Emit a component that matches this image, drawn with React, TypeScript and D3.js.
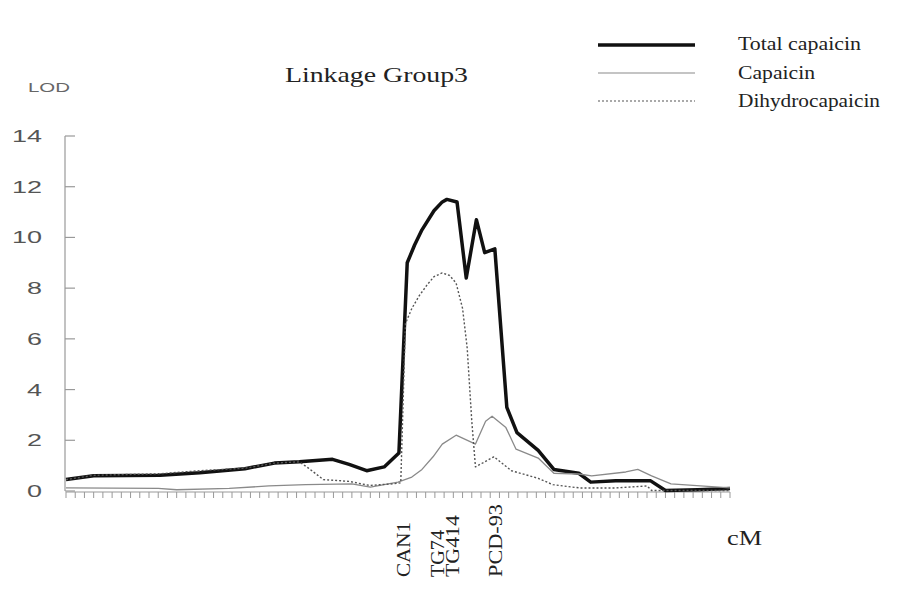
import React from 'react'
import * as d3 from 'd3'

// positions along the linkage group, in tick units (0..72)
const totalX = [0, 3, 10.2, 14.5, 19.4, 22.6, 25.3, 28.9, 30.7, 32.6, 34.5, 36.1, 37, 37.8, 38.6, 39.9, 40.8, 41.3, 42.4, 43.4, 44.5, 45.4, 46.5, 47.8, 48.9, 51.2, 52.9, 55.6, 56.9, 59.6, 63.4, 65, 68.5, 72]
const totalY = [0.45, 0.6, 0.62, 0.72, 0.88, 1.1, 1.15, 1.25, 1.05, 0.8, 0.95, 1.5, 9.0, 9.7, 10.3, 11.05, 11.4, 11.5, 11.4, 8.4, 10.7, 9.4, 9.55, 3.3, 2.3, 1.6, 0.85, 0.7, 0.35, 0.4, 0.4, 0.02, 0.05, 0.1]

const capX = [0, 10, 12, 17.7, 22, 26, 31, 33, 36, 37.5, 38.6, 39.8, 40.8, 42.3, 44.4, 45.5, 46.2, 47.7, 48.8, 51.2, 52.9, 55.6, 57, 60.7, 62, 63.5, 65.6, 72]
const capY = [0.12, 0.1, 0.05, 0.1, 0.2, 0.25, 0.28, 0.15, 0.35, 0.55, 0.85, 1.35, 1.85, 2.2, 1.85, 2.75, 2.95, 2.5, 1.65, 1.3, 0.7, 0.67, 0.6, 0.75, 0.85, 0.6, 0.28, 0.12]

const dihX = [0, 3, 10.2, 14.5, 19.4, 22.6, 25.3, 26.3, 27.9, 30.7, 32.9, 35.4, 36.3, 36.8, 37.5, 38.3, 39.2, 39.9, 40.8, 41.6, 42.3, 43, 43.5, 44, 44.4, 46.4, 48.3, 51.2, 52.8, 55.7, 59.6, 63, 63.5, 72]
const dihY = [0.45, 0.62, 0.68, 0.8, 0.9, 1.1, 1.15, 0.9, 0.45, 0.38, 0.22, 0.28, 0.32, 6.6, 7.2, 7.7, 8.15, 8.45, 8.6, 8.5, 8.2, 7.2, 5.65, 2.75, 0.95, 1.35, 0.8, 0.5, 0.25, 0.12, 0.12, 0.2, 0.02, 0.02]

const yTicks = [0, 2, 4, 6, 8, 10, 12, 14]
const markerNames = ['CAN1', 'TG74', 'TG414', 'PCD-93']
const markerPos = [36.6, 40.3, 41.9, 46.6]
const markerLen = [55, 47, 62, 73]

const legendNames = ['Total capaicin', 'Capaicin', 'Dihydrocapaicin']
const legendLen = [123, 77, 142]

const serif = '"Liberation Serif", "DejaVu Serif", serif'
const sans = '"Liberation Sans", Arial, sans-serif'

export default function App() {
  const width = 901
  const height = 595
  const x = d3.scaleLinear().domain([0, 72]).range([66, 730])
  const y = d3.scaleLinear().domain([0, 14]).range([491, 136])

  const line = d3.line<[number, number]>().x(d => x(d[0])).y(d => y(d[1]))
  const zip = (xs: number[], ys: number[]) => xs.map((v, i) => [v, ys[i]] as [number, number])

  const styles = [
    { stroke: '#111', width: 3.5, dash: undefined },
    { stroke: '#8a8a8a', width: 1.3, dash: undefined },
    { stroke: '#555', width: 1.4, dash: '2,2' }
  ]

  const series = [zip(totalX, totalY), zip(capX, capY), zip(dihX, dihY)]

  return (
    <svg width={width} height={height} style={{ position: 'absolute', left: 0, top: 0, background: '#fff' }}>
      <rect width={width} height={height} fill="#fff" />

      {/* title */}
      <text x={285} y={82} fontFamily={serif} fontSize={22} fill="#222" textLength={183} lengthAdjust="spacingAndGlyphs">Linkage Group3</text>

      {/* y axis */}
      <text x={28} y={92} fontFamily={sans} fontSize={13} fill="#666" textLength={42} lengthAdjust="spacingAndGlyphs">LOD</text>
      <line x1={65} x2={65} y1={y(14)} y2={y(0)} stroke="#999" strokeWidth={1.2} />
      {yTicks.map(t => (
        <g key={`yt_${t}`}>
          <line x1={65} x2={75} y1={y(t)} y2={y(t)} stroke="#999" strokeWidth={1.2} />
          <text x={42} y={y(t) + 6} textAnchor="end" fontFamily={sans} fontSize={17} fill="#555"
            textLength={String(t).length * 15} lengthAdjust="spacingAndGlyphs">{t}</text>
        </g>
      ))}

      {/* x axis */}
      <line x1={x(0)} x2={x(72)} y1={y(0) + 1} y2={y(0) + 1} stroke="#999" strokeWidth={1.2} />
      {d3.range(0, 73).map(i => (
        <line key={`xt_${i}`} x1={x(i)} x2={x(i)} y1={y(0) + 1} y2={y(0) + 7} stroke="#999" strokeWidth={1} />
      ))}
      <text x={727} y={545} fontFamily={serif} fontSize={20} fill="#222" textLength={35} lengthAdjust="spacingAndGlyphs">cM</text>

      {markerNames.map((m, i) => (
        <text key={`mk_${i}`} transform={`translate(${x(markerPos[i])},577) rotate(-90)`} dominantBaseline="central"
          fontFamily={serif} fontSize={19} fill="#222" textLength={markerLen[i]} lengthAdjust="spacingAndGlyphs">{m}</text>
      ))}

      {/* series */}
      {series.map((s, i) => (
        <path key={`s_${i}`} d={line(s) || ''} fill="none" stroke={styles[i].stroke} strokeWidth={styles[i].width}
          strokeDasharray={styles[i].dash} strokeLinejoin="round" />
      ))}

      {/* legend */}
      {legendNames.map((n, i) => (
        <g key={`lg_${i}`}>
          <line x1={598} x2={695} y1={45 + i * 28} y2={45 + i * 28} stroke={styles[i].stroke}
            strokeWidth={i === 0 ? 3.5 : 1.2} strokeDasharray={i === 2 ? '2,2' : undefined} />
          <text x={738} y={50 + i * 28.5} fontFamily={serif} fontSize={18} fill="#222"
            textLength={legendLen[i]} lengthAdjust="spacingAndGlyphs">{n}</text>
        </g>
      ))}
    </svg>
  )
}
